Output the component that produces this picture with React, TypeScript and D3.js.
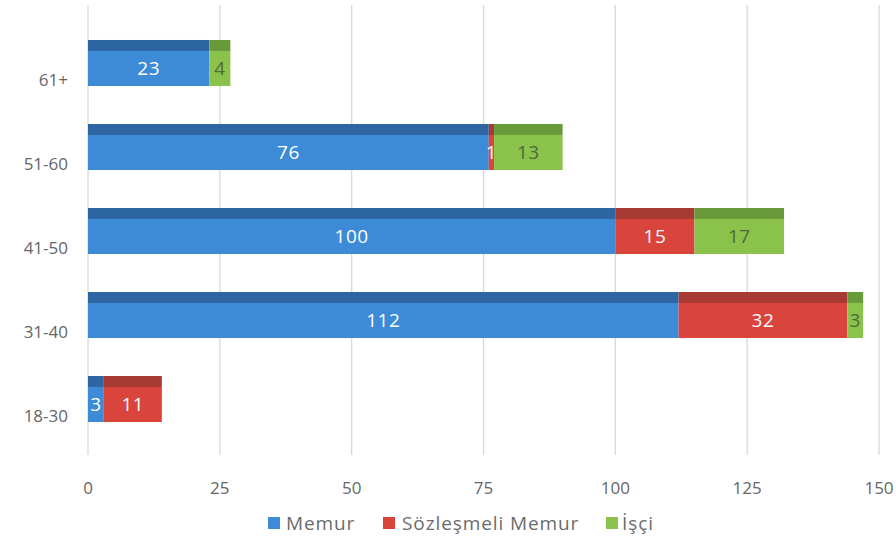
import React from "react";
import * as d3 from "d3";

const categories = ["61+", "51-60", "41-50", "31-40", "18-30"];
const memur = [23, 76, 100, 112, 3];
const sozlesmeli = [0, 1, 15, 32, 11];
const isci = [4, 13, 17, 3, 0];
const xTicks = [0, 25, 50, 75, 100, 125, 150];

const seriesNames = ["Memur", "Sözleşmeli Memur", "İşçi"];
const frontColors = ["#3d8ad6", "#d9443d", "#8bc24c"];
const topColors = ["#2d66a3", "#a83a34", "#699a3a"];
const labelColors = ["#ffffff", "#ffffff", "#4f6b33"];

const W = 896;
const H = 540;
const FONT = "'Open Sans', sans-serif";

export default function App() {
  const x = d3.scaleLinear().domain([0, 150]).range([88, 879]);
  const y = d3
    .scaleBand<string>()
    .domain(categories)
    .range([21, 441])
    .paddingInner(0.452)
    .paddingOuter(0.226);

  const values = [memur, sozlesmeli, isci];
  const stacked = categories.map((c, i) => {
    let acc = 0;
    return values.map((vals, s) => {
      const v = vals[i];
      const seg = { s, x0: acc, x1: acc + v, v };
      acc += v;
      return seg;
    });
  });

  const topH = 11;
  const legendItems = [
    { sq: 268, tx: 286 },
    { sq: 383, tx: 402 },
    { sq: 606, tx: 622 },
  ];

  return (
    <svg width={W} height={H} style={{ position: "absolute", left: 0, top: 0, background: "#fff" }} fontFamily={FONT}>
      {/* gridlines */}
      {xTicks.map((t) => (
        <line key={t} x1={x(t)} x2={x(t)} y1={5} y2={455} stroke="#d9d9d9" strokeWidth={1.3} />
      ))}
      {/* bars */}
      {categories.map((c, i) => {
        const by = y(c)!;
        const bh = y.bandwidth();
        return (
          <g key={c}>
            {stacked[i].map((seg) =>
              seg.v > 0 ? (
                <g key={seg.s}>
                  <rect x={x(seg.x0)} y={by} width={x(seg.x1) - x(seg.x0)} height={topH} fill={topColors[seg.s]} />
                  <rect x={x(seg.x0)} y={by + topH} width={x(seg.x1) - x(seg.x0)} height={bh - topH} fill={frontColors[seg.s]} />
                  <text
                    x={(x(seg.x0) + x(seg.x1)) / 2}
                    y={by + topH + (bh - topH) / 2}
                    dy="0.36em"
                    textAnchor="middle"
                    fontSize={19}
                    letterSpacing={0.5}
                    fill={labelColors[seg.s]}
                  >
                    {seg.v}
                  </text>
                </g>
              ) : null
            )}
            <text x={68} y={by + 40} dy="0.36em" textAnchor="end" fontSize={17} fill="#666">
              {c}
            </text>
          </g>
        );
      })}
      {/* x tick labels */}
      {xTicks.map((t) => (
        <text key={t} x={x(t)} y={488} dy="0.36em" textAnchor="middle" fontSize={17} fill="#666">
          {t}
        </text>
      ))}
      {/* legend */}
      {seriesNames.map((n, s) => (
        <g key={n}>
          <rect x={legendItems[s].sq} y={517} width={12} height={12} fill={frontColors[s]} />
          <text x={legendItems[s].tx} y={523} dy="0.36em" fontSize={19} letterSpacing={0.9} fill="#6b6b6b">
            {n}
          </text>
        </g>
      ))}
    </svg>
  );
}
